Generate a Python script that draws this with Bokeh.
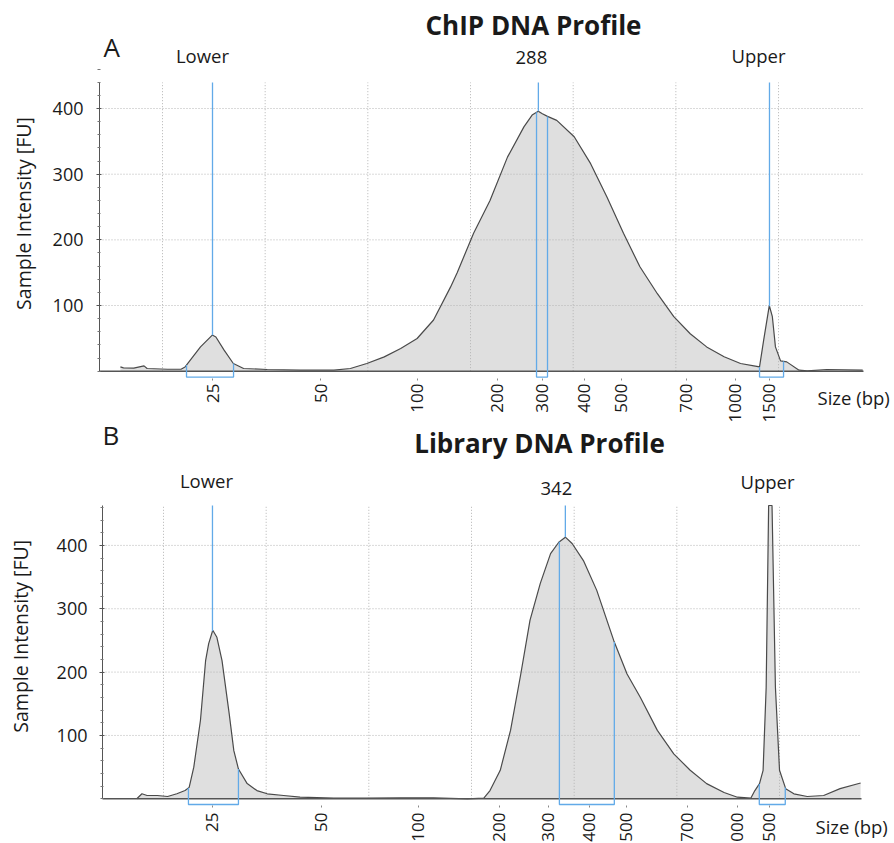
import numpy as np
from math import pi
from bokeh.plotting import figure
from bokeh.layouts import column
from bokeh.models import Range1d, FixedTicker, Label, LinearAxis
from bokeh.embed import file_html
from bokeh.resources import INLINE

# ---------------- data ----------------
tick_labels = ["25", "50", "100", "200", "300", "400", "500", "700", "1000", "1500"]
a_tick_time = [54.87, 65.39, 74.83, 82.62, 87.00, 91.09, 94.70, 101.02, 105.79, 109.10]
b_tick_time = [54.77, 65.38, 74.83, 82.72, 87.49, 91.48, 95.08, 101.02, 105.89, 109.01]
grid_time = [50, 60, 70, 80, 90, 100, 110]
fu_ticks = [100, 200, 300, 400]
fu_minor = [0, 20, 40, 60, 80, 120, 140, 160, 180, 220, 240, 260, 280, 320, 340, 360, 380, 420, 440, 460]

a_title = "ChIP DNA Profile"
b_title = "Library DNA Profile"

# migration time (s) and intensity (FU)
a_time = [45.9, 46.2, 47.2, 48.2, 48.5, 50.5, 51.8, 52.2, 53.7, 54.85, 55.2, 56.0, 56.9, 57.9,
          60.2, 63.4, 66.7, 68.3, 69.9, 71.6, 73.2, 74.8, 76.4, 78.05, 78.7, 80.3, 81.9, 83.6,
          85.2, 86.0, 86.6, 87.0, 87.5, 88.4, 90.1, 91.7, 93.3, 94.9, 96.5, 98.2, 99.8, 101.4,
          103.0, 104.7, 106.3, 107.6, 108.15, 108.55, 109.1, 109.4, 109.7, 110.2, 110.8, 112.0,
          112.8, 114.7, 118.2]
a_fu = [6.5, 5.0, 4.6, 8.1, 4.1, 3.0, 3.0, 6.5, 37, 55, 52, 32, 11.7, 4.1,
        2.6, 1.5, 1.5, 4.1, 11.7, 21.8, 34.6, 49.8, 78, 128, 150, 210, 260, 326,
        372, 390, 396, 392, 388, 382, 357, 316, 265, 210, 159, 118, 83, 57,
        37, 22, 11.7, 8.1, 6.5, 47, 100, 83, 37, 15.7, 14.2, 1.5,
        0.5, 2.6, 1.5]

b_time = [47.4, 47.9, 48.4, 49.4, 50.4, 51.3, 52.1, 52.5, 52.95, 53.6, 54.1, 54.4, 54.8, 55.2,
          55.7, 56.4, 56.85, 57.3, 58.15, 59.1, 60.1, 61.7, 63.3, 66.6, 69.8, 73.1, 76.3, 79.6,
          81.2, 81.8, 82.8, 83.8, 84.8, 85.7, 86.7, 87.7, 88.5, 89.14, 89.8, 90.9, 92.2, 93.85,
          95.15, 96.45, 98.1, 99.7, 101.3, 102.9, 104.6, 105.9, 107.2, 107.6, 108.05, 108.4,
          108.7, 108.94, 109.1, 109.27, 109.6, 110.0, 110.6, 111.4, 112.7, 114.3, 115.9, 117.9]
b_fu = [0, 7.9, 5.2, 5.2, 3.6, 7.9, 13, 18, 50, 124, 218, 245, 266, 255,
        218, 134, 76, 47, 24, 13, 7.9, 5.2, 2.5, 1.0, 1.0, 1.6, 1.6, 0,
        1.0, 13, 45, 108, 197, 282, 340, 387, 405, 413, 403, 376, 329, 250,
        197, 160, 108, 71, 45, 24, 10, 2.5, 1.0, 13, 24, 45,
        176, 463, 463, 463, 176, 45, 16, 7.9, 3.6, 5.2, 16, 25]

a_peak_names = ["Lower", "288", "Upper"]
a_peak_time = [54.87, 86.61, 109.12]
a_bracket_lo = [52.34, 86.43, 108.15]
a_bracket_hi = [56.92, 87.50, 110.49]

b_peak_names = ["Lower", "342", "Upper"]
b_peak_time = [54.77, 89.14, 109.12]
b_bracket_lo = [52.43, 88.56, 108.03]
b_bracket_hi = [57.30, 93.91, 110.56]

# ---------------- style ----------------
FONT = "Open Sans"
TXT = "#1a1a1a"
BLUE = "#62aae8"
FILL = "#dfdfdf"
CURVE = "#4a4a4a"
GRID = "#b4b4b4"
W = 894


def panel(cfg):
    # layout: pixel geometry of the panel (page coordinates)
    x50, pps = cfg["x50"], cfg["pps"]          # x of the 50 s grid line, px per second
    y0, ppu = cfg["y0"], cfg["ppu"]            # y of 0 FU, px per FU
    top, h = cfg["top"], cfg["height"]

    def t_of(x):
        return 50 + (x - x50) / pps

    def v_of(y):
        return (y0 - y) / ppu

    def sy_of(y):
        return h - (y - top)

    t_axis, t_end = t_of(cfg["axis_x"]), t_of(cfg["right_x"])
    ytop = v_of(cfg["top_y"])

    p = figure(width=W, height=h, x_range=Range1d(t_of(0), t_of(W)),
               y_range=Range1d(v_of(top + h), v_of(top)),
               x_axis_type=None, y_axis_type=None,
               output_backend="svg", toolbar_location=None, min_border=0)
    p.outline_line_color = None
    p.background_fill_color = "white"
    p.border_fill_color = "white"

    t = np.array(cfg["time"], dtype=float)
    v = np.array(cfg["fu"], dtype=float)

    p.varea(x=t, y1=np.zeros_like(v), y2=v, fill_color=FILL)

    # dotted grid (over the fill, as in the reference)
    p.segment(x0=grid_time, y0=[0] * len(grid_time), x1=grid_time, y1=[ytop] * len(grid_time),
              line_color=GRID, line_dash="1 2", line_width=1)
    p.segment(x0=[t_axis] * len(fu_ticks), y0=fu_ticks, x1=[t_end] * len(fu_ticks), y1=fu_ticks,
              line_color=GRID, line_dash="1 2", line_width=1)

    p.line(t, v, line_color=CURVE, line_width=1.2)
    p.segment(x0=[t_axis], y0=[0], x1=[t_end], y1=[0], line_color="#555555", line_width=1.5)

    # peak marker lines
    pt = np.array(cfg["peak_time"])
    pv = np.interp(pt, t, v)
    p.segment(x0=pt, y0=pv, x1=pt, y1=[ytop] * len(pt), line_color=BLUE, line_width=1.3)

    # integration brackets
    lo = np.array(cfg["lo"]); hi = np.array(cfg["hi"])
    xs = [[a, a, b, b] for a, b in zip(lo, hi)]
    ys = [[np.interp(a, t, v), -9, -9, np.interp(b, t, v)] for a, b in zip(lo, hi)]
    p.multi_line(xs=xs, ys=ys, line_color=BLUE, line_width=1.3)

    # peak names
    for name, tt, dx, yy in zip(cfg["names"], pt, cfg["name_dx"], cfg["name_y"]):
        p.add_layout(Label(x=tt, y=sy_of(yy), x_units="data", y_units="screen", x_offset=dx,
                           text=name, text_align="center", text_baseline="middle",
                           text_font=FONT, text_font_size="18.5px", text_color=TXT))

    # y axis
    ya = LinearAxis(fixed_location=t_axis, ticker=FixedTicker(ticks=fu_ticks, minor_ticks=fu_minor))
    ya.bounds = (0, ytop)
    ya.axis_line_color = "#555555"
    ya.major_tick_line_color = "#555555"
    ya.minor_tick_line_color = "#777777"
    ya.major_tick_in = 2
    ya.major_tick_out = 3
    ya.minor_tick_in = 1
    ya.minor_tick_out = 2
    ya.major_label_standoff = cfg["ystand"]
    ya.major_label_text_font = FONT
    ya.major_label_text_font_size = "18px"
    ya.major_label_text_color = TXT
    p.add_layout(ya, "left")

    # x axis (size labels at their migration times)
    ticks = cfg["ticks"]
    xa = LinearAxis(fixed_location=v_of(cfg["tick_y"]), ticker=FixedTicker(ticks=ticks))
    xa.axis_line_color = None
    xa.major_tick_line_color = "#888888"
    xa.major_tick_in = 0
    xa.major_tick_out = 2
    xa.major_label_orientation = pi / 2
    xa.major_label_standoff = cfg["xstand"]
    xa.major_label_text_font = FONT
    xa.major_label_text_font_size = "17px"
    xa.major_label_text_color = TXT
    xa.major_label_overrides = {tk: lab for tk, lab in zip(ticks, tick_labels)}
    p.add_layout(xa, "below")

    # texts around the plot area (screen units from the canvas bottom-left)
    def lab(text, x, y, size, **kw):
        p.add_layout(Label(x=x, y=sy_of(y), x_units="screen", y_units="screen", text=text,
                           text_font=FONT, text_font_size=size, text_color=TXT,
                           text_baseline="middle", **kw))

    lab(cfg["title"], *cfg["title_xy"], "26px", text_font_style="bold", text_align="center")
    lab(cfg["letter"], *cfg["letter_xy"], "26px", text_align="left")
    lab("Sample Intensity [FU]", *cfg["ylab_xy"], "19.5px", angle=pi / 2, text_align="center")
    lab("Size (bp)", *cfg["size_xy"], "18.5px", text_align="left")
    return p


pa = panel(dict(top=0, height=423, x50=162, pps=10.267, y0=370.7, ppu=0.6567,
                axis_x=99, right_x=863, top_y=82, tick_y=378, xstand=3, ystand=13,
                time=a_time, fu=a_fu, peak_time=a_peak_time, lo=a_bracket_lo, hi=a_bracket_hi,
                names=a_peak_names, name_dx=[-10, -7, -11], name_y=[54.5, 56.7, 54.8],
                ticks=a_tick_time, title=a_title, title_xy=(533, 24),
                letter="A", letter_xy=(103, 46), ylab_xy=(22.5, 213), size_xy=(817, 397)))

pb = panel(dict(top=423, height=420, x50=163, pps=10.267, y0=798.3, ppu=0.6335,
                axis_x=102, right_x=861, top_y=505, tick_y=805, xstand=5, ystand=12,
                time=b_time, fu=b_fu, peak_time=b_peak_time, lo=b_bracket_lo, hi=b_bracket_hi,
                names=b_peak_names, name_dx=[-6, -9, -3], name_y=[479.5, 487.5, 480.5],
                ticks=b_tick_time, title=b_title, title_xy=(539, 442.5),
                letter="B", letter_xy=(102, 434), ylab_xy=(20, 635.8), size_xy=(815, 826)))

layout = column(pa, pb)
open("out.html", "w").write(file_html(layout, INLINE))
